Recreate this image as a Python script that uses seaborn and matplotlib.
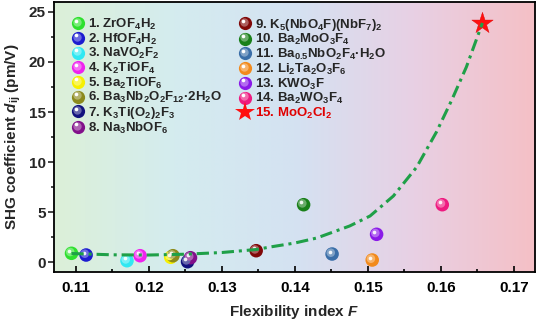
import numpy as np
import pandas as pd
import matplotlib
matplotlib.use('Agg')
import matplotlib.pyplot as plt
import seaborn as sns
import matplotlib.transforms as mtransforms
from matplotlib.lines import Line2D
from matplotlib.colors import LinearSegmentedColormap, to_rgb
from matplotlib.legend_handler import HandlerBase

# ---------------- data ----------------
labels = [
    r'1. ZrOF$_4$H$_2$',
    r'2. HfOF$_4$H$_2$',
    r'3. NaVO$_2$F$_2$',
    r'4. K$_2$TiOF$_4$',
    r'5. Ba$_2$TiOF$_6$',
    r'6. Ba$_3$Nb$_2$O$_2$F$_{12}$·2H$_2$O',
    r'7. K$_3$Ti(O$_2$)$_2$F$_3$',
    r'8. Na$_3$NbOF$_6$',
    r'9. K$_5$(NbO$_4$F)(NbF$_7$)$_2$',
    r'10. Ba$_2$MoO$_3$F$_4$',
    r'11. Ba$_{0.5}$NbO$_2$F$_4$·H$_2$O',
    r'12. Li$_2$Ta$_2$O$_3$F$_6$',
    r'13. KWO$_3$F',
    r'14. Ba$_2$WO$_3$F$_4$',
    r'15. MoO$_2$Cl$_2$',
]
flex = [0.1094, 0.1114, 0.1170, 0.1188, 0.1230, 0.1233, 0.1253, 0.1257,
        0.1347, 0.1412, 0.1451, 0.1506, 0.1512, 0.1602, 0.1657]
shg = [0.87, 0.70, 0.13, 0.63, 0.47, 0.63, 0.03, 0.43,
       1.13, 5.73, 0.80, 0.20, 2.77, 5.73, 23.9]
colors = ['#2ee02e', '#1c1cd0', '#30e8f2', '#ee22ee', '#f6f000', '#8c8a1c',
          '#12127e', '#82108a', '#800808', '#1a801a', '#3a6ea8', '#f28a1c',
          '#8a1ae8', '#ee1a80', '#ff1010']

curve_x = [0.1094, 0.1150, 0.1200, 0.1250, 0.1300, 0.1347, 0.1366, 0.1400,
           0.1430, 0.1475, 0.1503, 0.1535, 0.1567, 0.1594, 0.1615, 0.1635,
           0.1651, 0.1657]
curve_y = [0.85, 0.72, 0.70, 0.78, 0.95, 1.25, 1.50, 1.90,
           2.40, 3.60, 4.60, 6.60, 9.50, 13.0, 16.2, 19.5,
           22.7, 23.9]

xticks = [0.11, 0.12, 0.13, 0.14, 0.15, 0.16, 0.17]
yticks = [0, 5, 10, 15, 20, 25]

# ---------------- style ----------------
sns.set_theme(style='ticks')
plt.rcParams['font.family'] = ['Liberation Sans', 'DejaVu Sans']
plt.rcParams['font.weight'] = 'bold'
plt.rcParams['mathtext.fontset'] = 'custom'
plt.rcParams['mathtext.rm'] = 'Liberation Sans:bold'
plt.rcParams['mathtext.it'] = 'Liberation Sans:bold:italic'
plt.rcParams['mathtext.bf'] = 'Liberation Sans:bold'

fig = plt.figure(figsize=(5.4, 3.21), dpi=100)
ax = fig.add_axes([0.1, 0.1526, 0.8907, 0.8412])
xlim = (0.1070, 0.1729)
ylim = (-1.0, 26.0)
ax.set_xlim(*xlim)
ax.set_ylim(*ylim)

# background gradient
cmap = LinearSegmentedColormap.from_list(
    'bg', ['#dcf0d8', '#d4ecef', '#d4e2f2', '#e8d0e4', '#f5c0c6'])
grad = np.linspace(0, 1, 256).reshape(1, -1)
ax.imshow(grad, extent=[xlim[0], xlim[1], ylim[0], ylim[1]], aspect='auto',
          cmap=cmap, zorder=0, interpolation='bilinear')


def lighten(c, f):
    r, g, b = to_rgb(c)
    return (r + (1 - r) * f, g + (1 - g) * f, b + (1 - b) * f)


df = pd.DataFrame({'F': flex, 'd': shg, 'label': labels, 'color': colors})
balls = df.iloc[:14]
star = df.iloc[14:]

sns.scatterplot(data=balls, x='F', y='d', hue='label',
                palette=dict(zip(balls['label'], balls['color'])),
                s=95, linewidth=0, legend=False, ax=ax, zorder=3)
off1 = mtransforms.offset_copy(ax.transData, fig=fig, x=-1.3, y=1.3, units='dots')
off2 = mtransforms.offset_copy(ax.transData, fig=fig, x=-2.2, y=2.4, units='dots')
ax.scatter(balls['F'], balls['d'], s=38, c=[lighten(c, 0.35) for c in balls['color']],
           linewidths=0, transform=off1, zorder=4)
ax.scatter(balls['F'], balls['d'], s=7, c='white', alpha=0.9,
           linewidths=0, transform=off2, zorder=5)

sns.scatterplot(data=star, x='F', y='d', marker='*', s=260, color='#ff1010',
                edgecolor='#e00000', linewidth=0.3, legend=False, ax=ax, zorder=4)

sns.lineplot(x=curve_x, y=curve_y, ax=ax, color='#1fa048', lw=2.2, zorder=6,
             sort=False, dashes=False)
ax.lines[-1].set_dashes((4.0, 1.6, 1.0, 1.6))

# ticks
ax.set_xticks(xticks)
ax.set_yticks(yticks)
ax.set_xticklabels([f'{t:.2f}' for t in xticks], fontsize=11, fontweight='bold')
ax.set_yticklabels([str(t) for t in yticks], fontsize=11, fontweight='bold')
ax.set_xticks(np.arange(0.115, 0.171, 0.01), minor=True)
ax.set_yticks(np.arange(2.5, 25.1, 5), minor=True)
ax.tick_params(axis='x', which='both', direction='in', width=1.2, colors='black')
ax.tick_params(axis='x', which='major', length=4, pad=6.5)
ax.tick_params(axis='x', which='minor', length=2.5)
ax.tick_params(axis='y', which='both', direction='out', width=1.2)
ax.tick_params(axis='y', which='major', length=4, pad=2)
ax.tick_params(axis='y', which='minor', length=2.5)
for s in ax.spines.values():
    s.set_linewidth(1.3)
    s.set_color('black')
    s.set_visible(True)

ax.set_xlabel(r'Flexibility index $\mathit{F}$', fontsize=11, fontweight='bold', labelpad=6)
ax.set_ylabel(r'SHG coefficient $\mathit{d}_{\mathrm{ij}}$ (pm/V)', fontsize=11,
              fontweight='bold', labelpad=4)


# legend with sphere-like handles
class SphereHandler(HandlerBase):
    def create_artists(self, legend, orig_handle, xdescent, ydescent,
                       width, height, fontsize, trans):
        cx = width / 2 - xdescent
        cy = height / 2 - ydescent
        c = orig_handle.get_color()
        if orig_handle.get_marker() == '*':
            a = Line2D([cx], [cy], marker='*', markersize=15, color=c,
                       markeredgewidth=0, linestyle='none', transform=trans)
            return [a]
        a = Line2D([cx], [cy], marker='o', markersize=9.5, color=c,
                   markeredgewidth=0, linestyle='none', transform=trans)
        b = Line2D([cx - 0.9], [cy + 0.9], marker='o', markersize=6, color=lighten(c, 0.35),
                   markeredgewidth=0, linestyle='none', transform=trans)
        w = Line2D([cx - 1.6], [cy + 1.8], marker='o', markersize=2.6, color='white',
                   markeredgewidth=0, linestyle='none', transform=trans)
        return [a, b, w]


handles = []
for i, c in enumerate(colors):
    handles.append(Line2D([], [], marker='*' if i == 14 else 'o', color=c, linestyle='none'))
leg = ax.legend(handles, labels, ncol=2, loc='upper left', frameon=False,
                bbox_to_anchor=(0.022, 0.965), borderaxespad=0,
                handler_map={Line2D: SphereHandler()},
                handlelength=1.3, handletextpad=0.1,
                labelspacing=-0.03, columnspacing=1.1,
                prop={'weight': 'bold', 'size': 9.5})
leg.get_texts()[14].set_color('#e00000')

fig.savefig('out.png', dpi=100)
